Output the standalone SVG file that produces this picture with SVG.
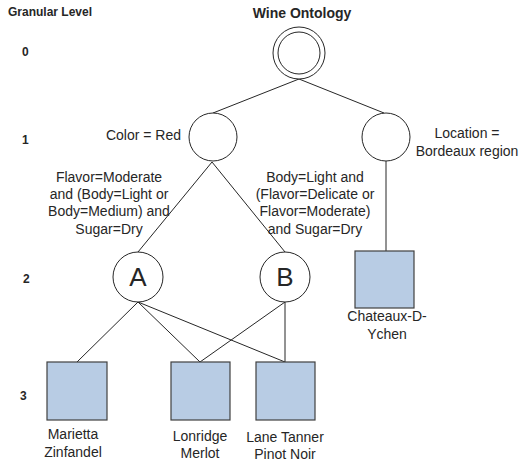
<svg xmlns="http://www.w3.org/2000/svg" width="525" height="461" viewBox="0 0 525 461">
<style>
text{font-family:"Liberation Sans",Arial,sans-serif;fill:#262626}
.b{font-weight:bold;font-size:12px}
.t{font-size:14px}
.m{text-anchor:middle}
.c{fill:#fff;stroke:#262626;stroke-width:1}
.box{fill:#b8cce4;stroke:#404040;stroke-width:1.2}
.ln{stroke:#262626;stroke-width:1;fill:none}
</style>
<rect width="525" height="461" fill="#fff"/>
<text class="b" x="8" y="16">Granular Level</text>
<text class="b m" x="302" y="18" style="font-size:14px">Wine Ontology</text>
<text class="b" x="22" y="56">0</text>
<text class="b" x="22" y="144">1</text>
<text class="b" x="23" y="283">2</text>
<text class="b" x="20" y="400">3</text>
<g id="connectors">
<line class="ln" x1="299" y1="79" x2="213" y2="113"/>
<line class="ln" x1="299" y1="79" x2="384" y2="113"/>
<line class="ln" x1="212" y1="162" x2="138" y2="252"/>
<line class="ln" x1="212" y1="162" x2="285" y2="252"/>
<line class="ln" x1="386" y1="161" x2="386" y2="251"/>
<line class="ln" x1="138" y1="302" x2="77" y2="362"/>
<line class="ln" x1="138" y1="302" x2="200" y2="362"/>
<line class="ln" x1="138" y1="302" x2="285" y2="362"/>
<line class="ln" x1="285" y1="302" x2="200" y2="362"/>
<line class="ln" x1="285" y1="302" x2="285" y2="362"/>
</g>
<g id="root">
<circle class="c" cx="299" cy="53" r="26"/>
<circle class="c" cx="299" cy="53" r="21"/>
</g>
<g id="color-red">
<circle class="c" cx="213" cy="137" r="24"/>
<text class="t" x="181" y="140" text-anchor="end">Color = Red</text>
</g>
<g id="location">
<circle class="c" cx="386" cy="137" r="24"/>
<text class="t m" x="467" y="138">Location =</text>
<text class="t m" x="467" y="156">Bordeaux region</text>
</g>
<g id="label-a">
<text class="t m" x="109" y="182">Flavor=Moderate</text>
<text class="t m" x="109" y="199">and (Body=Light or</text>
<text class="t m" x="109" y="216">Body=Medium) and</text>
<text class="t m" x="109" y="234">Sugar=Dry</text>
</g>
<g id="label-b">
<text class="t m" x="315" y="182">Body=Light and</text>
<text class="t m" x="315" y="199">(Flavor=Delicate or</text>
<text class="t m" x="315" y="216">Flavor=Moderate)</text>
<text class="t m" x="315" y="234">and Sugar=Dry</text>
</g>
<g id="A">
<circle class="c" cx="138" cy="277" r="25"/>
<text class="m" x="138" y="286" style="font-size:26px">A</text>
</g>
<g id="B">
<circle class="c" cx="285" cy="277" r="25"/>
<text class="m" x="285" y="286" style="font-size:26px">B</text>
</g>
<g id="chateaux">
<rect class="box" x="355" y="251" width="59" height="57"/>
<text class="t m" x="387" y="321">Chateaux-D-</text>
<text class="t m" x="387" y="339">Ychen</text>
</g>
<g id="marietta">
<rect class="box" x="47" y="362" width="60" height="58"/>
<text class="t m" x="73" y="439">Marietta</text>
<text class="t m" x="73" y="457">Zinfandel</text>
</g>
<g id="lonridge">
<rect class="box" x="171" y="362" width="59" height="58"/>
<text class="t m" x="200" y="441">Lonridge</text>
<text class="t m" x="200" y="458">Merlot</text>
</g>
<g id="lane">
<rect class="box" x="256" y="362" width="59" height="58"/>
<text class="t m" x="285" y="442">Lane Tanner</text>
<text class="t m" x="285" y="459">Pinot Noir</text>
</g>
</svg>
